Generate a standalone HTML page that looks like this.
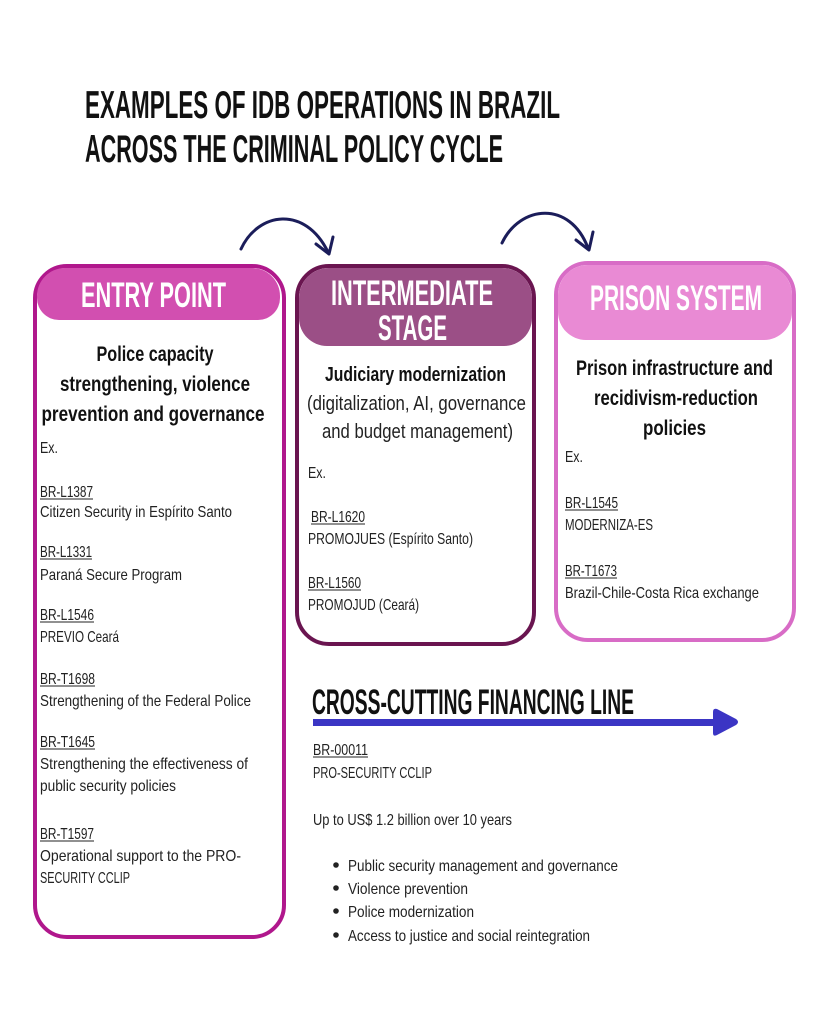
<!DOCTYPE html>
<html><head><meta charset="utf-8"><style>
html,body{margin:0;padding:0;background:#fff;}
svg{display:block;}
text{font-family:"Liberation Sans",sans-serif;}
.t{font-size:16px;fill:#222;}
.b{font-weight:bold;fill:#111;}
.h{font-weight:bold;fill:#fff;}
.u{stroke:#222;stroke-width:1;}
</style></head><body>
<svg width="819" height="1024" viewBox="0 0 819 1024" xmlns="http://www.w3.org/2000/svg">
<rect width="819" height="1024" fill="#fff"/>
<text class="b" x="85" y="118" font-size="39" textLength="475" lengthAdjust="spacingAndGlyphs">EXAMPLES OF IDB OPERATIONS IN BRAZIL</text>
<text class="b" x="85" y="162" font-size="39" textLength="418" lengthAdjust="spacingAndGlyphs">ACROSS THE CRIMINAL POLICY CYCLE</text>

<!-- arcs -->
<g fill="none" stroke="#1b1d5a" stroke-width="3" stroke-linecap="round" stroke-linejoin="round">
<path d="M241 249 C258 212 305 205 328 252"/>
<path d="M316 244 L329 254 L333 237"/>
<path d="M502 243 C520 205 570 200 588 248"/>
<path d="M576 240 L589 250 L593 232"/>
</g>

<!-- box1 -->
<rect x="35" y="266" width="249" height="671" rx="32" fill="#fff" stroke="#b0178c" stroke-width="4"/>
<path d="M37 296 a28 28 0 0 1 28 -28 h187 a28 28 0 0 1 28 28 v2 a22 22 0 0 1 -22 22 h-199 a22 22 0 0 1 -22 -22z" fill="#d24fb0"/>
<text class="h" x="81" y="307" font-size="35" textLength="145" lengthAdjust="spacingAndGlyphs">ENTRY POINT</text>
<text class="b" x="155" y="361" font-size="21" text-anchor="middle" textLength="117" lengthAdjust="spacingAndGlyphs">Police capacity</text>
<text class="b" x="155" y="391" font-size="21" text-anchor="middle" textLength="190" lengthAdjust="spacingAndGlyphs">strengthening, violence</text>
<text class="b" x="153" y="421" font-size="21" text-anchor="middle" textLength="223" lengthAdjust="spacingAndGlyphs">prevention and governance</text>
<text class="t" x="40" y="453" textLength="18" lengthAdjust="spacingAndGlyphs">Ex.</text>
<g class="t">
<text x="40" y="497" textLength="53" lengthAdjust="spacingAndGlyphs">BR-L1387</text><line class="u" x1="40" x2="93" y1="499" y2="499"/>
<text x="40" y="517" textLength="192" lengthAdjust="spacingAndGlyphs">Citizen Security in Espírito Santo</text>
<text x="40" y="557" textLength="52" lengthAdjust="spacingAndGlyphs">BR-L1331</text><line class="u" x1="40" x2="92" y1="559" y2="559"/>
<text x="40" y="580" textLength="142" lengthAdjust="spacingAndGlyphs">Paraná Secure Program</text>
<text x="40" y="620" textLength="54" lengthAdjust="spacingAndGlyphs">BR-L1546</text><line class="u" x1="40" x2="94" y1="622" y2="622"/>
<text x="40" y="642" textLength="79" lengthAdjust="spacingAndGlyphs">PREVIO Ceará</text>
<text x="40" y="684" textLength="55" lengthAdjust="spacingAndGlyphs">BR-T1698</text><line class="u" x1="40" x2="95" y1="686" y2="686"/>
<text x="40" y="706" textLength="211" lengthAdjust="spacingAndGlyphs">Strengthening of the Federal Police</text>
<text x="40" y="747" textLength="55" lengthAdjust="spacingAndGlyphs">BR-T1645</text><line class="u" x1="40" x2="95" y1="749" y2="749"/>
<text x="40" y="769" textLength="208" lengthAdjust="spacingAndGlyphs">Strengthening the effectiveness of</text>
<text x="40" y="791" textLength="136" lengthAdjust="spacingAndGlyphs">public security policies</text>
<text x="40" y="839" textLength="54" lengthAdjust="spacingAndGlyphs">BR-T1597</text><line class="u" x1="40" x2="94" y1="841" y2="841"/>
<text x="40" y="861" textLength="201" lengthAdjust="spacingAndGlyphs">Operational support to the PRO-</text>
<text x="40" y="883" textLength="90" lengthAdjust="spacingAndGlyphs">SECURITY CCLIP</text>
</g>

<!-- box2 -->
<rect x="297" y="266" width="237" height="378" rx="32" fill="#fff" stroke="#6a1550" stroke-width="4"/>
<path d="M299 298 a30 30 0 0 1 30 -30 h173 a30 30 0 0 1 30 30 v20 a28 28 0 0 1 -28 28 h-177 a28 28 0 0 1 -28 -28z" fill="#9b4f86"/>
<text class="h" x="331" y="305" font-size="35" textLength="162" lengthAdjust="spacingAndGlyphs">INTERMEDIATE</text>
<text class="h" x="378" y="340" font-size="35" textLength="69" lengthAdjust="spacingAndGlyphs">STAGE</text>
<text class="b" x="325" y="381" font-size="20" textLength="181" lengthAdjust="spacingAndGlyphs">Judiciary modernization</text>
<text x="307" y="410" font-size="20" fill="#222" textLength="219" lengthAdjust="spacingAndGlyphs">(digitalization, AI, governance</text>
<text x="322" y="438" font-size="20" fill="#222" textLength="191" lengthAdjust="spacingAndGlyphs">and budget management)</text>
<g class="t">
<text x="308" y="478" textLength="18" lengthAdjust="spacingAndGlyphs">Ex.</text>
<text x="311" y="522" textLength="54" lengthAdjust="spacingAndGlyphs">BR-L1620</text><line class="u" x1="311" x2="365" y1="524" y2="524"/>
<text x="308" y="544" textLength="165" lengthAdjust="spacingAndGlyphs">PROMOJUES (Espírito Santo)</text>
<text x="308" y="588" textLength="53" lengthAdjust="spacingAndGlyphs">BR-L1560</text><line class="u" x1="308" x2="361" y1="590" y2="590"/>
<text x="308" y="610" textLength="111" lengthAdjust="spacingAndGlyphs">PROMOJUD (Ceará)</text>
</g>

<!-- box3 -->
<rect x="556" y="263" width="238" height="377" rx="32" fill="#fff" stroke="#d86cc6" stroke-width="4"/>
<path d="M558 295 a30 30 0 0 1 30 -30 h174 a30 30 0 0 1 30 30 v17 a28 28 0 0 1 -28 28 h-178 a28 28 0 0 1 -28 -28z" fill="#e98ad4"/>
<text class="h" x="590" y="310" font-size="35" textLength="172" lengthAdjust="spacingAndGlyphs">PRISON SYSTEM</text>
<text class="b" x="576" y="375" font-size="21" textLength="197" lengthAdjust="spacingAndGlyphs">Prison infrastructure and</text>
<text class="b" x="594" y="405" font-size="21" textLength="164" lengthAdjust="spacingAndGlyphs">recidivism-reduction</text>
<text class="b" x="643" y="435" font-size="21" textLength="63" lengthAdjust="spacingAndGlyphs">policies</text>
<g class="t">
<text x="565" y="462" textLength="18" lengthAdjust="spacingAndGlyphs">Ex.</text>
<text x="565" y="508" textLength="53" lengthAdjust="spacingAndGlyphs">BR-L1545</text><line class="u" x1="565" x2="618" y1="510" y2="510"/>
<text x="565" y="530" textLength="88" lengthAdjust="spacingAndGlyphs">MODERNIZA-ES</text>
<text x="565" y="576" textLength="52" lengthAdjust="spacingAndGlyphs">BR-T1673</text><line class="u" x1="565" x2="617" y1="578" y2="578"/>
<text x="565" y="598" textLength="194" lengthAdjust="spacingAndGlyphs">Brazil-Chile-Costa Rica exchange</text>
</g>

<!-- cross-cutting -->
<text class="b" x="312" y="714" font-size="35" textLength="322" lengthAdjust="spacingAndGlyphs">CROSS-CUTTING FINANCING LINE</text>
<rect x="313" y="719" width="405" height="7" fill="#3b35c4"/>
<path d="M713 712 Q713 708 717 709 L736 719 Q740 722 736 725 L717 735 Q713 737 713 733 Z" fill="#3b35c4"/>
<g class="t">
<text x="313" y="755" textLength="55" lengthAdjust="spacingAndGlyphs">BR-00011</text><line class="u" x1="313" x2="368" y1="757" y2="757"/>
<text x="313" y="778" textLength="119" lengthAdjust="spacingAndGlyphs">PRO-SECURITY CCLIP</text>
<text x="313" y="825" textLength="199" lengthAdjust="spacingAndGlyphs">Up to US$ 1.2 billion over 10 years</text>
<circle cx="336" cy="865" r="2.8" fill="#222"/>
<text x="348" y="871" textLength="270" lengthAdjust="spacingAndGlyphs">Public security management and governance</text>
<circle cx="336" cy="888" r="2.8" fill="#222"/>
<text x="348" y="894" textLength="120" lengthAdjust="spacingAndGlyphs">Violence prevention</text>
<circle cx="336" cy="911" r="2.8" fill="#222"/>
<text x="348" y="917" textLength="126" lengthAdjust="spacingAndGlyphs">Police modernization</text>
<circle cx="336" cy="935" r="2.8" fill="#222"/>
<text x="348" y="941" textLength="242" lengthAdjust="spacingAndGlyphs">Access to justice and social reintegration</text>
</g>
</svg>
</body></html>
